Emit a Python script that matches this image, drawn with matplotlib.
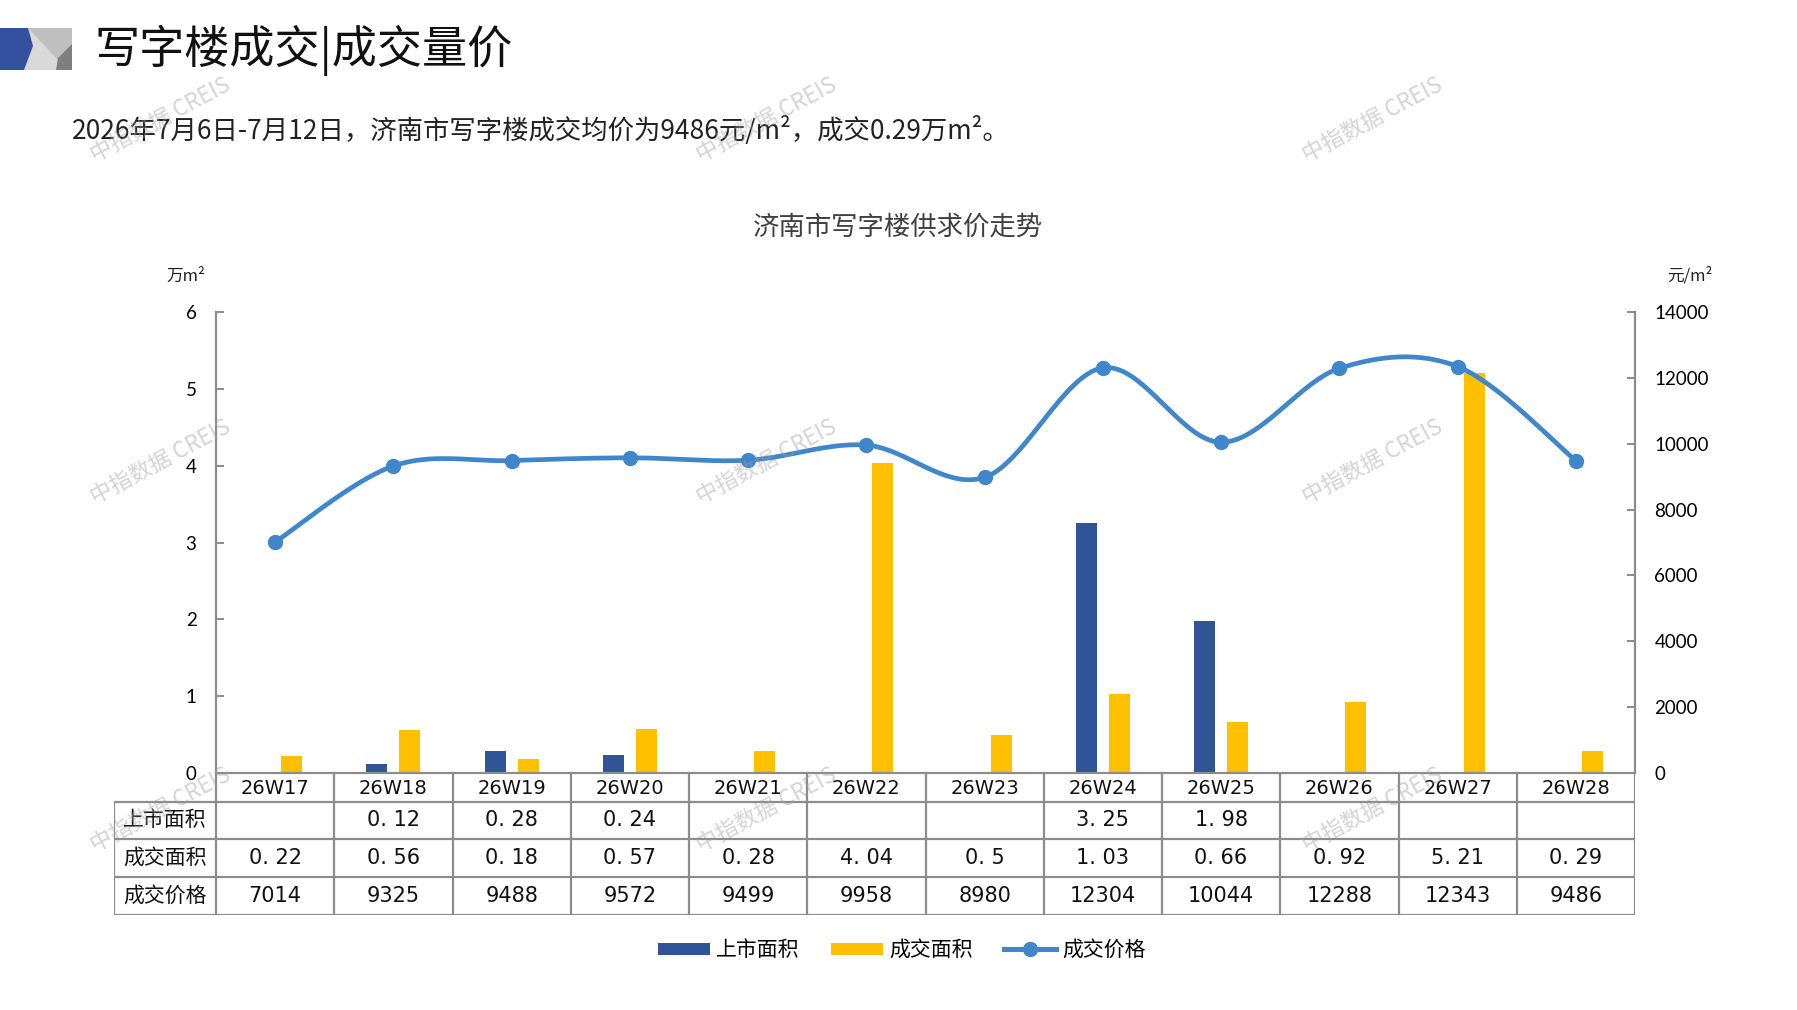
import numpy as np
import matplotlib
matplotlib.use("Agg")
import matplotlib.pyplot as plt
from matplotlib.patches import Polygon, Rectangle, Patch
from matplotlib.lines import Line2D

plt.rcParams['font.family'] = ['Noto Sans CJK SC', 'DejaVu Sans']

# ---------------- data ----------------
weeks = ["26W17", "26W18", "26W19", "26W20", "26W21", "26W22",
         "26W23", "26W24", "26W25", "26W26", "26W27", "26W28"]
supply_area = [None, 0.12, 0.28, 0.24, None, None, None, 3.25, 1.98, None, None, None]
deal_area = [0.22, 0.56, 0.18, 0.57, 0.28, 4.04, 0.5, 1.03, 0.66, 0.92, 5.21, 0.29]
deal_price = [7014, 9325, 9488, 9572, 9499, 9958, 8980, 12304, 10044, 12288, 12343, 9486]
row_names = ["上市面积", "成交面积", "成交价格"]
series_names = ["上市面积", "成交面积", "成交价格"]
left_ticks = [0, 1, 2, 3, 4, 5, 6]
right_ticks = [0, 2000, 4000, 6000, 8000, 10000, 12000, 14000]

title = "写字楼成交|成交量价"
subtitle = "2026年7月6日-7月12日，济南市写字楼成交均价为9486元/m²，成交0.29万m²。"
chart_title = "济南市写字楼供求价走势"

BLUE = "#2F5597"
YELLOW = "#FFC000"
LINE = "#3F86CB"
GRID = "#8C8C8C"

W, H = 1797, 1010
fig = plt.figure(figsize=(W / 100, H / 100), dpi=100)

def fx(px):
    return px / W

def fy(py):
    return 1 - py / H

# overlay axes in pixel coordinates for decoration
deco = fig.add_axes([0, 0, 1, 1], zorder=-5)
deco.set_xlim(0, W)
deco.set_ylim(H, 0)
deco.axis("off")
deco.add_patch(Rectangle((0, 28), 72, 42, color="#D9D9D9", lw=0))
deco.add_patch(Polygon([(28, 28), (72, 28), (72, 44), (58, 60)], closed=True, color="#BFBFBF", lw=0))
deco.add_patch(Polygon([(72, 44), (72, 70), (56, 70), (58, 58)], closed=True, color="#7F7F7F", lw=0))
deco.add_patch(Polygon([(0, 28), (28, 28), (33, 46), (24, 70), (0, 70)], closed=True, color="#3451A0", lw=0))

fig.text(fx(94), fy(50), title, fontsize=32.5, va="center", ha="left", color="#111111")
fig.text(fx(72), fy(131), subtitle, fontsize=19, va="center", ha="left", color="#222222")
fig.text(fx(898), fy(227), chart_title, fontsize=19, va="center", ha="center", color="#404040")
fig.text(fx(186), fy(276), "万m²", fontsize=12, va="center", ha="center", color="#222222")
fig.text(fx(1690), fy(276), "元/m²", fontsize=12, va="center", ha="center", color="#222222")

# ---------------- main axes ----------------
L, R, T, B = 216, 1635, 312, 773
ax = fig.add_axes([fx(L), fy(B), fx(R) - fx(L), fy(T) - fy(B)])
n = len(weeks)
x = np.arange(n)
bw = 0.178
off = 0.14
sup = np.array([np.nan if v is None else v for v in supply_area])
ax.bar(x - off, sup, width=bw, color=BLUE, zorder=2)
ax.bar(x + off, deal_area, width=bw, color=YELLOW, zorder=2)
ax.set_xlim(-0.5, n - 0.5)
ax.set_ylim(0, 6)
ax.set_yticks(left_ticks)
ax.set_yticklabels([str(t) for t in left_ticks], fontsize=13.5, family=['Lato', 'DejaVu Sans'])
ax.set_xticks([])
for s in ["top", "right"]:
    ax.spines[s].set_visible(False)
ax.spines["left"].set_color(GRID)
ax.spines["bottom"].set_color(GRID)
ax.spines["left"].set_linewidth(1.6)
ax.spines["bottom"].set_linewidth(1.6)
ax.tick_params(axis="y", direction="in", length=6, width=1.4, color=GRID, pad=14)
ax.patch.set_alpha(0)

ax2 = ax.twinx()
ax2.set_ylim(0, 14000)
ax2.set_yticks(right_ticks)
ax2.set_yticklabels([str(t) for t in right_ticks], fontsize=13.5, family=['Lato', 'DejaVu Sans'])
for s in ["top", "left", "bottom"]:
    ax2.spines[s].set_visible(False)
ax2.spines["right"].set_color(GRID)
ax2.spines["right"].set_linewidth(1.6)
ax2.tick_params(axis="y", direction="in", length=6, width=1.4, color=GRID, pad=14)

# smooth (Catmull-Rom / Bezier) curve through the price points
p = np.array(deal_price, dtype=float)
xs, ys = [], []
tt = np.linspace(0, 1, 40)
for i in range(n - 1):
    p0 = np.array([x[max(i - 1, 0)], p[max(i - 1, 0)]])
    p1 = np.array([x[i], p[i]])
    p2 = np.array([x[i + 1], p[i + 1]])
    p3 = np.array([x[min(i + 2, n - 1)], p[min(i + 2, n - 1)]])
    c1 = p1 + (p2 - p0) / 6
    c2 = p2 - (p3 - p1) / 6
    for t in tt:
        pt = ((1 - t) ** 3) * p1 + 3 * ((1 - t) ** 2) * t * c1 + 3 * (1 - t) * t ** 2 * c2 + t ** 3 * p2
        xs.append(pt[0]); ys.append(pt[1])
ax2.plot(xs, ys, color=LINE, lw=3.4, zorder=3, solid_capstyle="round")
ax2.plot(x, p, "o", color=LINE, ms=10, zorder=4)

# ---------------- table ----------------
tl = 114
tax = fig.add_axes([fx(tl), fy(915), fx(R) - fx(tl), fy(773) - fy(915)])
cat_w = (R - L) / n
left_ext = (L - tl) / cat_w
tax.set_xlim(-0.5 - left_ext, n - 0.5)
tax.set_ylim(915, 773)
tax.axis("off")
rows_y = [773, 802, 839, 877, 915]
lw = 1.6
for yy in rows_y[1:]:
    tax.plot([-0.5 - left_ext, n - 0.5], [yy, yy], color=GRID, lw=lw, solid_capstyle="butt")
for k in range(n + 1):
    tax.plot([k - 0.5, k - 0.5], [773, 915], color=GRID, lw=lw, solid_capstyle="butt")
tax.plot([-0.5 - left_ext] * 2, [802, 915], color=GRID, lw=lw, solid_capstyle="butt")

narrow = ['Liberation Sans Narrow', 'DejaVu Sans']
for i, wk in enumerate(weeks):
    tax.text(i, (rows_y[0] + rows_y[1]) / 2 + 1, wk, ha="center", va="center", fontsize=14, family=narrow, color="#111111")
    if supply_area[i] is not None:
        tax.text(i, (rows_y[1] + rows_y[2]) / 2, str(supply_area[i]).replace('.', '. '),
                 ha="center", va="center", fontsize=15, family=narrow, color="#111111")
    tax.text(i, (rows_y[2] + rows_y[3]) / 2, str(deal_area[i]).replace('.', '. '), ha="center", va="center",
             fontsize=15, family=narrow, color="#111111")
    tax.text(i, (rows_y[3] + rows_y[4]) / 2, str(deal_price[i]), ha="center", va="center",
             fontsize=15, family=narrow, color="#111111")
hc = -0.5 - left_ext / 2
for r, name in enumerate(row_names):
    tax.text(hc, (rows_y[r + 1] + rows_y[r + 2]) / 2, name, ha="center", va="center", fontsize=15, color="#111111")

# ---------------- legend ----------------
handles = [Patch(facecolor=BLUE, edgecolor="none"),
           Patch(facecolor=YELLOW, edgecolor="none"),
           Line2D([0], [0], color=LINE, lw=3.6, marker="o", ms=10)]
leg = fig.legend(handles, series_names, loc="center", bbox_to_anchor=(fx(902), fy(950)), ncol=3,
                 frameon=False, fontsize=15, handlelength=2.5, handleheight=0.5,
                 columnspacing=1.5, handletextpad=0.3)

# ---------------- watermarks ----------------
for cxp in [160, 766, 1372]:
    for cyp in [120, 462, 810]:
        fig.text(fx(cxp), fy(cyp), "中指数据 CREIS", fontsize=16, rotation=28, color="#A0A0A0",
                 alpha=0.45, ha="center", va="center", zorder=10)

fig.savefig("out.png", dpi=100)
